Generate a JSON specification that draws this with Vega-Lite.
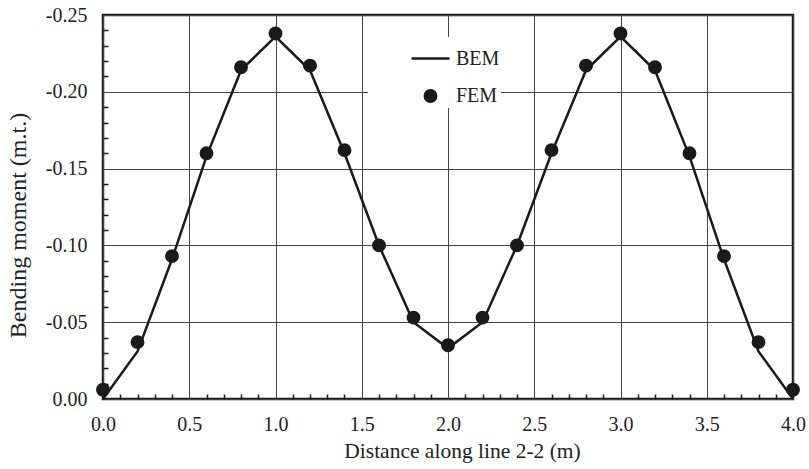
{
  "$schema": "https://vega.github.io/schema/vega-lite/v6.json",
  "width": 690,
  "height": 384,
  "autosize": "none",
  "padding": {"left": 103, "top": 15, "right": 16, "bottom": 70},
  "background": "white",
  "config": {
    "font": "Liberation Serif",
    "axis": {"labelFont": "Liberation Serif", "titleFont": "Liberation Serif"},
    "legend": {"labelFont": "Liberation Serif"},
    "view": {"stroke": "#1a1a1a", "strokeWidth": 2.5}
  },
  "data": {
    "values": [
      {"x": 0.0, "value": 0.000, "series": "BEM"},
      {"x": 0.2, "value": -0.031, "series": "BEM"},
      {"x": 0.4, "value": -0.091, "series": "BEM"},
      {"x": 0.6, "value": -0.158, "series": "BEM"},
      {"x": 0.8, "value": -0.214, "series": "BEM"},
      {"x": 1.0, "value": -0.236, "series": "BEM"},
      {"x": 1.2, "value": -0.214, "series": "BEM"},
      {"x": 1.4, "value": -0.160, "series": "BEM"},
      {"x": 1.6, "value": -0.100, "series": "BEM"},
      {"x": 1.8, "value": -0.050, "series": "BEM"},
      {"x": 2.0, "value": -0.033, "series": "BEM"},
      {"x": 2.2, "value": -0.050, "series": "BEM"},
      {"x": 2.4, "value": -0.100, "series": "BEM"},
      {"x": 2.6, "value": -0.160, "series": "BEM"},
      {"x": 2.8, "value": -0.214, "series": "BEM"},
      {"x": 3.0, "value": -0.236, "series": "BEM"},
      {"x": 3.2, "value": -0.214, "series": "BEM"},
      {"x": 3.4, "value": -0.158, "series": "BEM"},
      {"x": 3.6, "value": -0.091, "series": "BEM"},
      {"x": 3.8, "value": -0.031, "series": "BEM"},
      {"x": 4.0, "value": 0.000, "series": "BEM"},
      {"x": 0.0, "value": -0.006, "series": "FEM"},
      {"x": 0.2, "value": -0.037, "series": "FEM"},
      {"x": 0.4, "value": -0.093, "series": "FEM"},
      {"x": 0.6, "value": -0.160, "series": "FEM"},
      {"x": 0.8, "value": -0.216, "series": "FEM"},
      {"x": 1.0, "value": -0.238, "series": "FEM"},
      {"x": 1.2, "value": -0.217, "series": "FEM"},
      {"x": 1.4, "value": -0.162, "series": "FEM"},
      {"x": 1.6, "value": -0.100, "series": "FEM"},
      {"x": 1.8, "value": -0.053, "series": "FEM"},
      {"x": 2.0, "value": -0.035, "series": "FEM"},
      {"x": 2.2, "value": -0.053, "series": "FEM"},
      {"x": 2.4, "value": -0.100, "series": "FEM"},
      {"x": 2.6, "value": -0.162, "series": "FEM"},
      {"x": 2.8, "value": -0.217, "series": "FEM"},
      {"x": 3.0, "value": -0.238, "series": "FEM"},
      {"x": 3.2, "value": -0.216, "series": "FEM"},
      {"x": 3.4, "value": -0.160, "series": "FEM"},
      {"x": 3.6, "value": -0.093, "series": "FEM"},
      {"x": 3.8, "value": -0.037, "series": "FEM"},
      {"x": 4.0, "value": -0.006, "series": "FEM"}
    ]
  },
  "layer": [
    {
      "transform": [{"filter": "datum.series === 'BEM'"}],
      "mark": {"type": "line", "color": "#1a1a1a", "strokeWidth": 2.5},
      "encoding": {
        "x": {
          "field": "x", "type": "quantitative",
          "scale": {"domain": [0, 4], "nice": false, "zero": false},
          "axis": {
            "orient": "bottom",
            "title": "Distance along line 2-2 (m)",
            "values": [0, 0.5, 1, 1.5, 2, 2.5, 3, 3.5, 4],
            "format": ".1f",
            "labelOverlap": false,
            "labelFlush": false,
            "labelFontSize": 20,
            "labelColor": "#222",
            "labelPadding": 15,
            "titleFontSize": 21.5,
            "titleFontWeight": "normal",
            "titleColor": "#222",
            "titleX": 359,
            "titleY": 58,
            "titleBaseline": "alphabetic",
            "titleAlign": "center",
            "domain": false,
            "ticks": false,
            "tickSize": 0,
            "grid": true,
            "gridColor": "#444",
            "gridWidth": 1
          }
        },
        "y": {
          "field": "value", "type": "quantitative",
          "scale": {"domain": [-0.25, 0], "nice": false, "zero": false, "reverse": true},
          "axis": {
            "orient": "left",
            "title": "Bending moment (m.t.)",
            "values": [0, -0.05, -0.1, -0.15, -0.2, -0.25],
            "labelExpr": "(datum.value < -0.0001 ? '-' : '') + format(abs(datum.value), '.2f')",
            "labelOverlap": false,
            "labelFlush": false,
            "labelFontSize": 20,
            "labelColor": "#222",
            "labelPadding": 16,
            "titleFontSize": 24,
            "titleFontWeight": "normal",
            "titleColor": "#222",
            "titleX": -78,
            "titleY": 210,
            "titleBaseline": "alphabetic",
            "titleAlign": "center",
            "titleAngle": -90,
            "domain": false,
            "ticks": false,
            "tickSize": 0,
            "grid": true,
            "gridColor": "#444",
            "gridWidth": 1
          }
        }
      }
    },
    {
      "transform": [{"filter": "datum.series === 'FEM'"}],
      "mark": {"type": "point", "filled": true, "fill": "#1a1a1a", "stroke": "#1a1a1a", "strokeWidth": 2.5, "opacity": 1, "fillOpacity": 1, "strokeOpacity": 1},
      "encoding": {
        "x": {
          "field": "x", "type": "quantitative",
          "axis": {
            "orient": "bottom",
            "title": null,
            "values": [0.1,0.2,0.3,0.4,0.6,0.7,0.8,0.9,1.1,1.2,1.3,1.4,1.6,1.7,1.8,1.9,2.1,2.2,2.3,2.4,2.6,2.7,2.8,2.9,3.1,3.2,3.3,3.4,3.6,3.7,3.8,3.9],
            "labels": false,
            "domain": false,
            "grid": false,
            "ticks": true,
            "tickSize": 5,
            "translate": -4.5,
            "tickOffset": 5,
            "tickColor": "#1a1a1a",
            "tickWidth": 1.5,
            "zindex": 3
          }
        },
        "y": {
          "field": "value", "type": "quantitative",
          "axis": {
            "orient": "left",
            "title": null,
            "values": [-0.01,-0.02,-0.03,-0.04,-0.06,-0.07,-0.08,-0.09,-0.11,-0.12,-0.13,-0.14,-0.16,-0.17,-0.18,-0.19,-0.21,-0.22,-0.23,-0.24],
            "labels": false,
            "domain": false,
            "grid": false,
            "ticks": true,
            "tickSize": 5,
            "translate": 5.5,
            "tickOffset": -5,
            "tickColor": "#1a1a1a",
            "tickWidth": 1.5,
            "zindex": 3
          }
        },
        "shape": {
          "field": "series", "type": "nominal",
          "scale": {"domain": ["BEM", "FEM"], "range": ["stroke", "circle"]},
          "legend": {
            "title": null,
            "orient": "none",
            "legendX": 265,
            "legendY": 22,
            "fillColor": "white",
            "padding": 1,
            "symbolOffset": 41,
            "symbolStrokeWidth": 2.5,
            "symbolStrokeColor": "#1a1a1a",
            "symbolFillColor": "#1a1a1a",
            "labelFontSize": 20,
            "labelColor": "#222",
            "labelOffset": 5,
            "rowPadding": 16,
            "zindex": 2
          }
        },
        "size": {
          "field": "series", "type": "nominal",
          "scale": {"domain": ["BEM", "FEM"], "range": [1444, 130]}
        }
      }
    }
  ],
  "resolve": {"axis": {"x": "independent", "y": "independent"}}
}
